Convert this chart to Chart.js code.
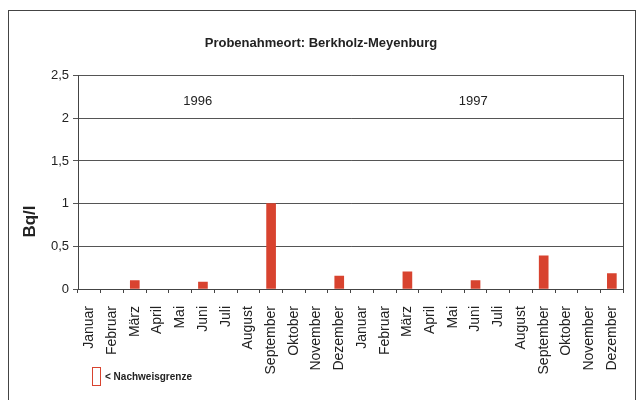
<!DOCTYPE html>
<html>
<head>
<meta charset="utf-8">
<script src="https://cdn.jsdelivr.net/npm/chart.js@4.4.1/dist/chart.umd.min.js"></script>
<style>
  body { margin: 0; background: #fff; }
  #wrap { position: relative; width: 642px; height: 400px; }
  #frame { position: absolute; left: 8px; top: 10px; width: 626px; height: 390px; border: 1px solid #444; border-bottom: none; pointer-events: none; }
  #legend { position: absolute; left: 92px; top: 367px; display: flex; align-items: center;
    font: bold 10px 'Liberation Sans', Arial, sans-serif; color: #222; }
  #legend .box { width: 7px; height: 17px; border: 1.5px solid #d8432f; margin-right: 4px; }
</style>
</head>
<body>
<div id="wrap">
  <canvas id="chart" width="642" height="400"></canvas>
  <div id="frame"></div>
  <div id="legend"><span class="box"></span><span>&lt; Nachweisgrenze</span></div>
</div>
<script>
// Monthly samples, Berkholz-Meyenburg, 1996 and 1997
const months = ['Januar', 'Februar', 'März', 'April', 'Mai', 'Juni', 'Juli', 'August',
    'September', 'Oktober', 'November', 'Dezember'];
const categories = months.concat(months);
const values = [null, null, 0.1, null, null, 0.08, null, null, 1.0, null, null, 0.15,
    null, null, 0.2, null, null, 0.1, null, null, 0.39, null, null, 0.18];
const yearLabels = ['1996', '1997'];
const yTicks = [0, 0.5, 1, 1.5, 2, 2.5];

const FONT = "'Liberation Sans', Arial, sans-serif";
const RED = '#d8432f';

// year captions inside the plot and the unit label left of the axis
const textPlugin = {
    id: 'texts',
    afterDatasetsDraw(chart) {
        const { ctx, scales: { x, y } } = chart;
        const spots = [4.77, 16.9];
        ctx.save();
        ctx.font = '13px ' + FONT;
        ctx.fillStyle = '#222';
        ctx.textAlign = 'center';
        ctx.textBaseline = 'middle';
        yearLabels.forEach((t, i) => {
            ctx.fillText(t, x.getPixelForValue(spots[i]), y.getPixelForValue(2.2));
        });
        ctx.translate(x.left - 48, y.getPixelForValue(0.79));
        ctx.rotate(-Math.PI / 2);
        ctx.font = 'bold 17px ' + FONT;
        ctx.fillText('Bq/l', 0, 0);
        ctx.restore();
    }
};

new Chart(document.getElementById('chart'), {
    type: 'bar',
    data: {
        labels: categories,
        datasets: [{
            label: 'Bq/l',
            data: values,
            backgroundColor: RED,
            barThickness: 9
        }]
    },
    options: {
        responsive: false,
        animation: false,
        layout: { padding: 0 },
        plugins: {
            title: {
                display: true,
                text: 'Probenahmeort: Berkholz-Meyenburg',
                color: '#222',
                font: { family: FONT, size: 13, weight: 'bold' },
                padding: { top: 36, bottom: 24 }
            },
            legend: { display: false },
            tooltip: { enabled: false }
        },
        scales: {
            x: {
                grid: { drawOnChartArea: false, offset: true, tickLength: 4, color: '#444' },
                border: { color: '#444' },
                ticks: {
                    minRotation: 90,
                    maxRotation: 90,
                    autoSkip: false,
                    padding: 13,
                    color: '#222',
                    font: { family: FONT, size: 14 }
                },
                afterFit(scale) { scale.height = 111; }
            },
            y: {
                min: 0,
                max: 2.5,
                afterBuildTicks(scale) { scale.ticks = yTicks.map(v => ({ value: v })); },
                grid: { color: '#555', drawTicks: true, tickLength: 5 },
                border: { color: '#444' },
                ticks: {
                    color: '#222',
                    padding: 4,
                    font: { family: FONT, size: 13 },
                    callback: v => String(v).replace('.', ',')
                },
                afterFit(scale) { scale.width = 78; }
            },
            y2: {
                position: 'right',
                min: 0,
                max: 2.5,
                grid: { drawOnChartArea: false, drawTicks: false },
                border: { color: '#444' },
                ticks: { display: false },
                afterFit(scale) { scale.width = 17; }
            }
        }
    },
    plugins: [textPlugin]
});
</script>
</body>
</html>
